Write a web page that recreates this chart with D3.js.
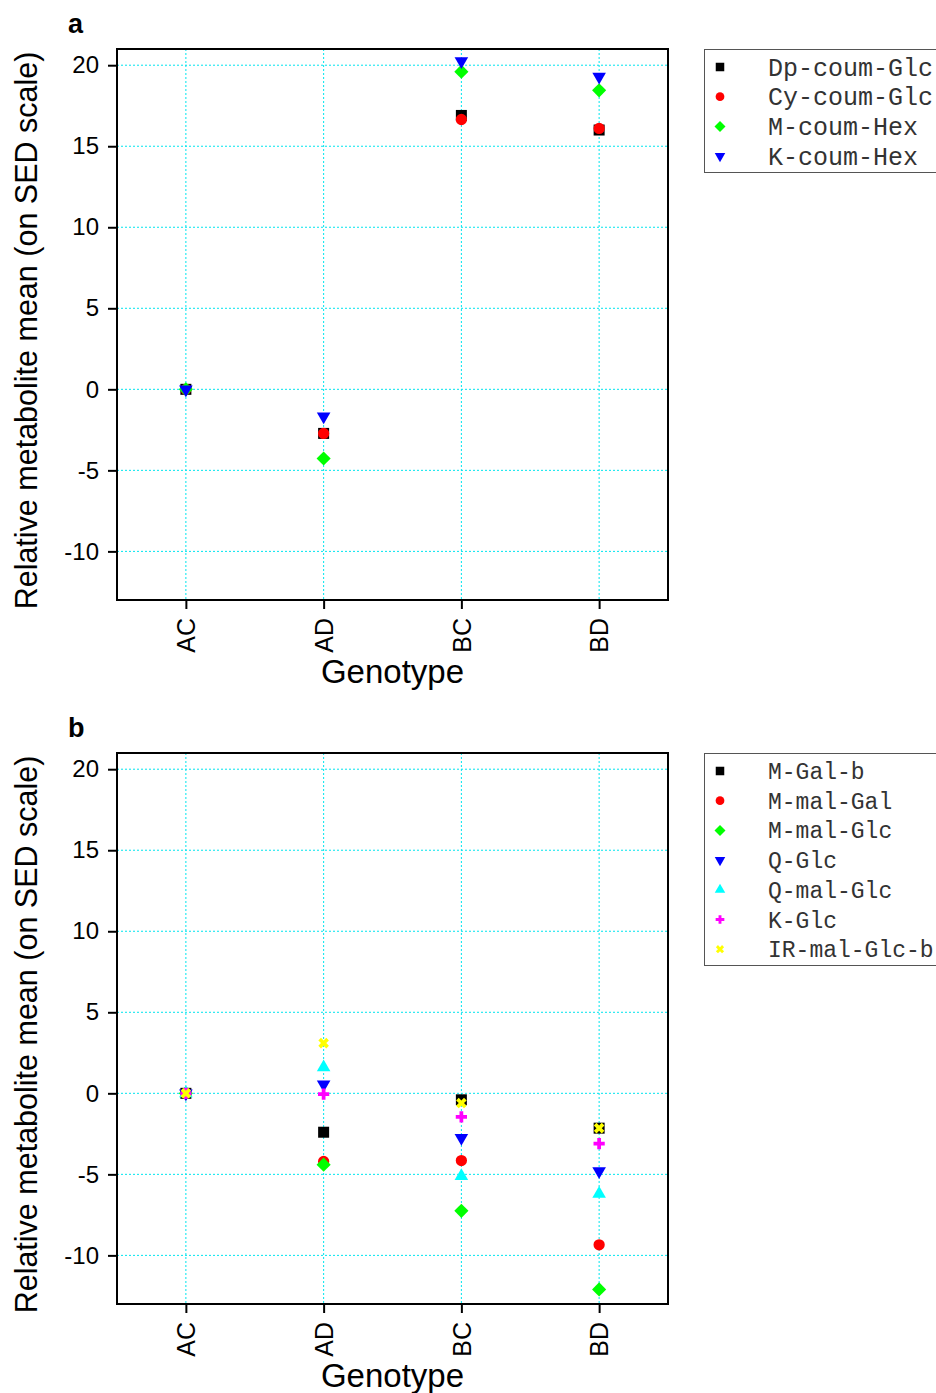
<!DOCTYPE html>
<html>
<head>
<meta charset="utf-8">
<script src="https://cdn.jsdelivr.net/npm/d3@7"></script>
<style>
  body { margin: 0; background: #fff; }
  svg { font-family: "Liberation Sans", Arial, sans-serif; }
</style>
</head>
<body>
<svg id="chart" width="936" height="1393"></svg>
<script>
const genotypes = ["AC", "AD", "BC", "BD"]
const yTicks = [-10, -5, 0, 5, 10, 15, 20]

const seriesA = ["Dp-coum-Glc", "Cy-coum-Glc", "M-coum-Hex", "K-coum-Hex"]
const dpCoumGlc = [0, -2.72, 16.9, 16.0]
const cyCoumGlc = [0, -2.72, 16.65, 16.1]
const mCoumHex = [0, -4.27, 19.6, 18.45]
const kCoumHex = [0, -1.67, 20.25, 19.3]

const seriesB = ["M-Gal-b", "M-mal-Gal", "M-mal-Glc", "Q-Glc", "Q-mal-Glc", "K-Glc", "IR-mal-Glc-b"]
const mGalB = [0, -2.4, -0.4, -2.15]
const mMalGal = [0, -4.2, -4.15, -9.35]
const mMalGlc = [0, -4.4, -7.25, -12.1]
const qGlc = [0, 0.55, -2.75, -4.8]
const qMalGlc = [0, 1.6, -5.1, -6.2]
const kGlc = [0, -0.05, -1.45, -3.1]
const irMalGlcB = [0, 3.1, -0.6, -2.15]

// marker styles, in series order
const markers = [
  { type: d3.symbolSquare, size: 121, rot: 0, color: "#000000" },
  { type: d3.symbolCircle, size: 100, rot: 0, color: "#ff0000" },
  { type: d3.symbolSquare, size: 100, rot: 45, color: "#00ff00" },
  { type: d3.symbolTriangle, size: 80, rot: 180, color: "#0000ff" },
  { type: d3.symbolTriangle, size: 80, rot: 0, color: "#00ffff" },
  { type: d3.symbolCross, size: 70, rot: 0, color: "#ff00ff" },
  { type: d3.symbolCross, size: 70, rot: 45, color: "#ffff00" }
]

const svg = d3.select("#chart")

function drawPanel(top, letter, names, values, legendH, legendFont) {
  const left = 117, right = 668, bottom = top + 551
  const x = d3.scalePoint().domain(genotypes).range([left, right]).padding(0.5)
  const y = d3.scaleLinear().domain([-13, 21]).range([bottom, top])

  const g = svg.append("g")

  // grid
  g.append("g").selectAll("line").data(yTicks).join("line")
    .attr("x1", left).attr("x2", right)
    .attr("y1", d => y(d)).attr("y2", d => y(d))
    .attr("stroke", "#00e5ee").attr("stroke-width", 1).attr("stroke-dasharray", "2,2")
  g.append("g").selectAll("line").data(genotypes).join("line")
    .attr("x1", d => x(d)).attr("x2", d => x(d))
    .attr("y1", top).attr("y2", bottom)
    .attr("stroke", "#00e5ee").attr("stroke-width", 1).attr("stroke-dasharray", "2,2")

  // axes
  const yAxis = g.append("g").attr("transform", `translate(${left},0)`)
    .call(d3.axisLeft(y).tickValues(yTicks).tickFormat(d => String(d)).tickSize(9).tickPadding(9))
  yAxis.select(".domain").remove()
  yAxis.selectAll("line").attr("stroke-width", 2)
  yAxis.selectAll("text").style("font-size", "24px").attr("fill", "#000")

  const xAxis = g.append("g").attr("transform", `translate(0,${bottom})`)
    .call(d3.axisBottom(x).tickSize(9))
  xAxis.select(".domain").remove()
  xAxis.selectAll("line").attr("stroke-width", 2)
  xAxis.selectAll("text").style("font-size", "25px").attr("fill", "#000")
    .attr("transform", "rotate(-90)")
    .attr("text-anchor", "end").attr("dy", "0.35em").attr("x", -18).attr("y", 0)

  // frame
  g.append("rect").attr("x", left).attr("y", top)
    .attr("width", right - left).attr("height", bottom - top)
    .attr("fill", "none").attr("stroke", "#000").attr("stroke-width", 2)

  // points
  values.forEach((vals, i) => {
    const m = markers[i]
    const sym = d3.symbol().type(m.type).size(m.size)
    g.append("g").selectAll("path").data(vals).join("path")
      .attr("d", sym)
      .attr("transform", (d, j) => `translate(${x(genotypes[j])},${y(d)}) rotate(${m.rot})`)
      .attr("fill", m.color)
  })

  // titles
  g.append("text").attr("x", (left + right) / 2).attr("y", bottom + 83)
    .attr("text-anchor", "middle").style("font-size", "33px").text("Genotype")
  g.append("text")
    .attr("transform", `translate(37,${(top + bottom) / 2 + 6}) rotate(-90)`)
    .attr("text-anchor", "middle").style("font-size", "30.5px")
    .text("Relative metabolite mean (on SED scale)")
  g.append("text").attr("x", 68).attr("y", top - 16)
    .style("font-size", "27px").attr("font-weight", "bold").text(letter)

  // legend
  const lg = g.append("g").attr("transform", `translate(704,${top})`)
  lg.append("rect").attr("x", 0.5).attr("y", 0.5).attr("width", 260).attr("height", legendH)
    .attr("fill", "#fff").attr("stroke", "#555").attr("stroke-width", 1)
  names.forEach((name, i) => {
    const m = markers[i]
    const cy = 18 + i * 29.7
    lg.append("path")
      .attr("d", d3.symbol().type(m.type).size(m.size * 0.6))
      .attr("transform", `translate(16,${cy}) rotate(${m.rot})`)
      .attr("fill", m.color)
    lg.append("text").attr("x", 64).attr("y", cy).attr("dy", "0.35em")
      .style("font-family", "'Liberation Mono', 'Courier New', monospace")
      .style("font-size", legendFont + "px").attr("fill", "#333").text(name)
  })
}

drawPanel(49, "a", seriesA, [dpCoumGlc, cyCoumGlc, mCoumHex, kCoumHex], 123, 25)
drawPanel(753, "b", seriesB, [mGalB, mMalGal, mMalGlc, qGlc, qMalGlc, kGlc, irMalGlcB], 212, 23)
</script>
</body>
</html>
